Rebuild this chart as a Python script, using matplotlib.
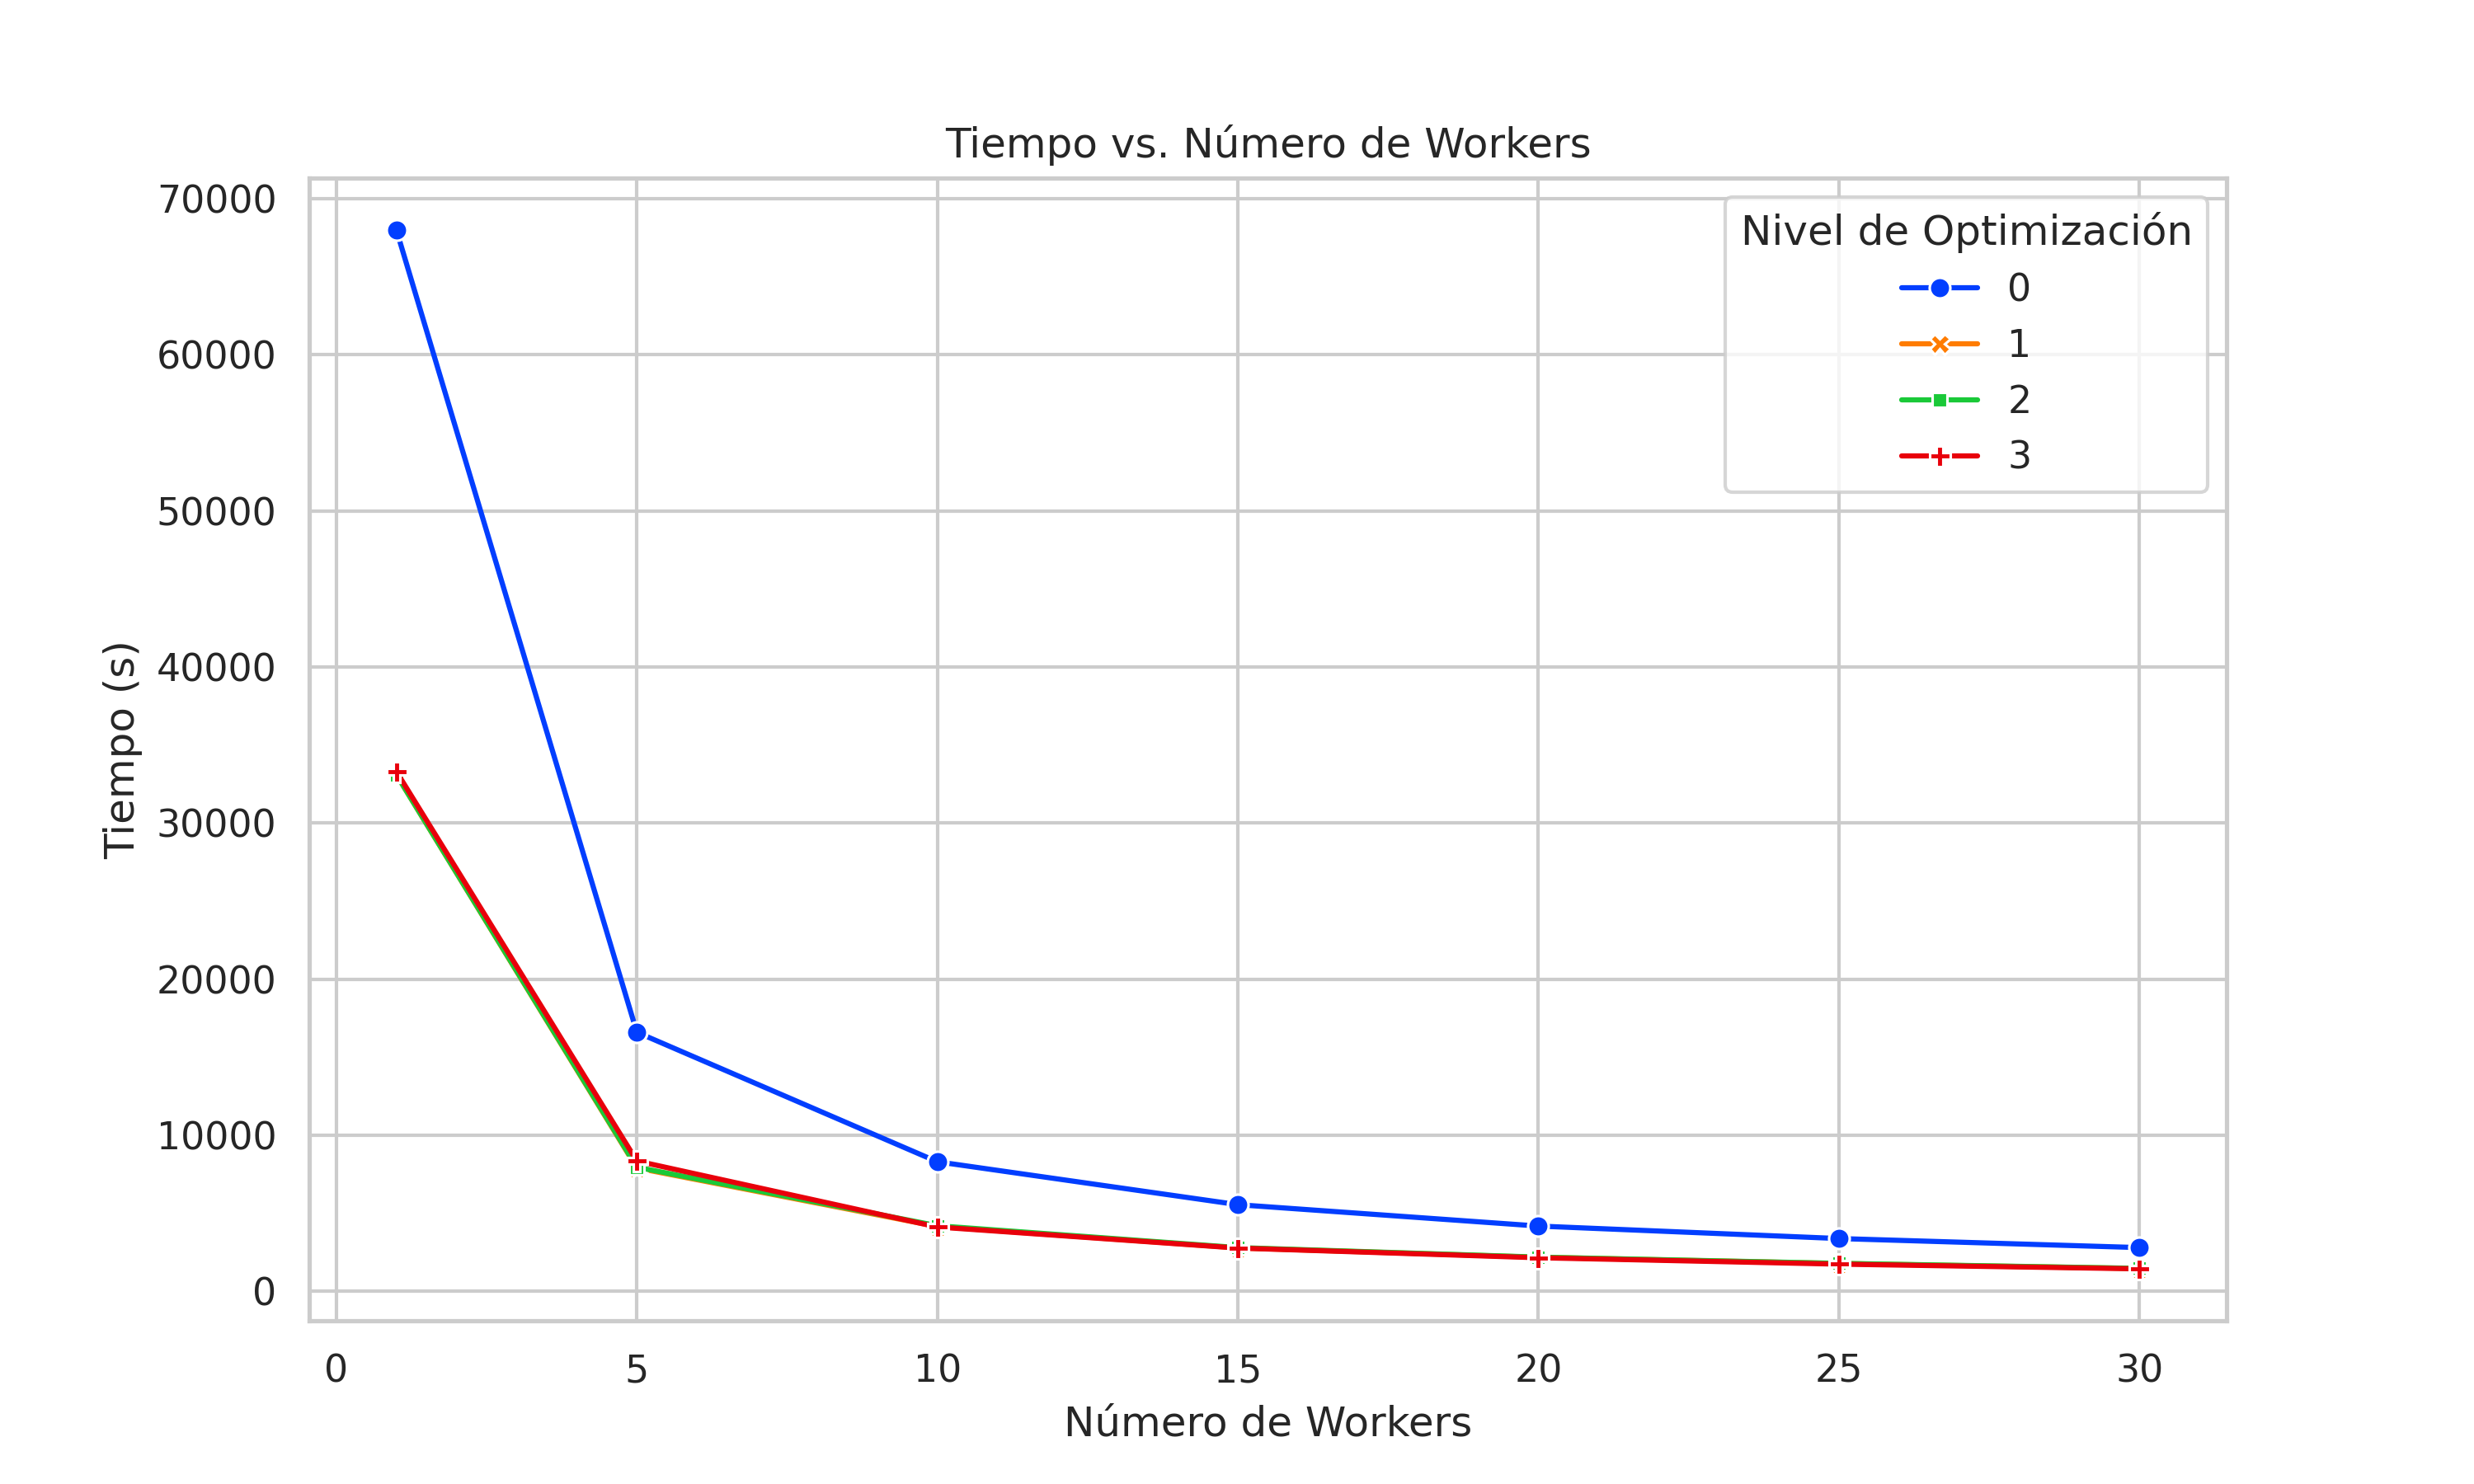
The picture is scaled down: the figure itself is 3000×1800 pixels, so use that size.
import matplotlib
matplotlib.use("Agg")
import matplotlib.pyplot as plt
import seaborn as sns
import pandas as pd

workers = [1, 5, 10, 15, 20, 25, 30]
niveles = [0, 1, 2, 3]
tiempo_0 = [68000, 16600, 8300, 5550, 4180, 3380, 2800]
tiempo_1 = [33100, 7900, 4150, 2780, 2180, 1780, 1460]
tiempo_2 = [33100, 7950, 4200, 2800, 2190, 1790, 1470]
tiempo_3 = [33300, 8350, 4120, 2770, 2150, 1740, 1440]

tiempos = [tiempo_0, tiempo_1, tiempo_2, tiempo_3]
rows = []
for nivel, serie in zip(niveles, tiempos):
    for w, t in zip(workers, serie):
        rows.append({"Workers": w, "Tiempo": t, "Nivel": nivel})
df = pd.DataFrame(rows)

sns.set_theme(style="whitegrid")
fig, ax = plt.subplots(figsize=(10, 6))
sns.lineplot(data=df, x="Workers", y="Tiempo", hue="Nivel", style="Nivel",
             markers=True, dashes=False, palette="bright", ax=ax)
ax.set_title("Tiempo vs. Número de Workers")
ax.set_xlabel("Número de Workers")
ax.set_ylabel("Tiempo (s)")
ax.legend(title="Nivel de Optimización", loc="upper right")

fig.savefig("out.png", dpi=300)
